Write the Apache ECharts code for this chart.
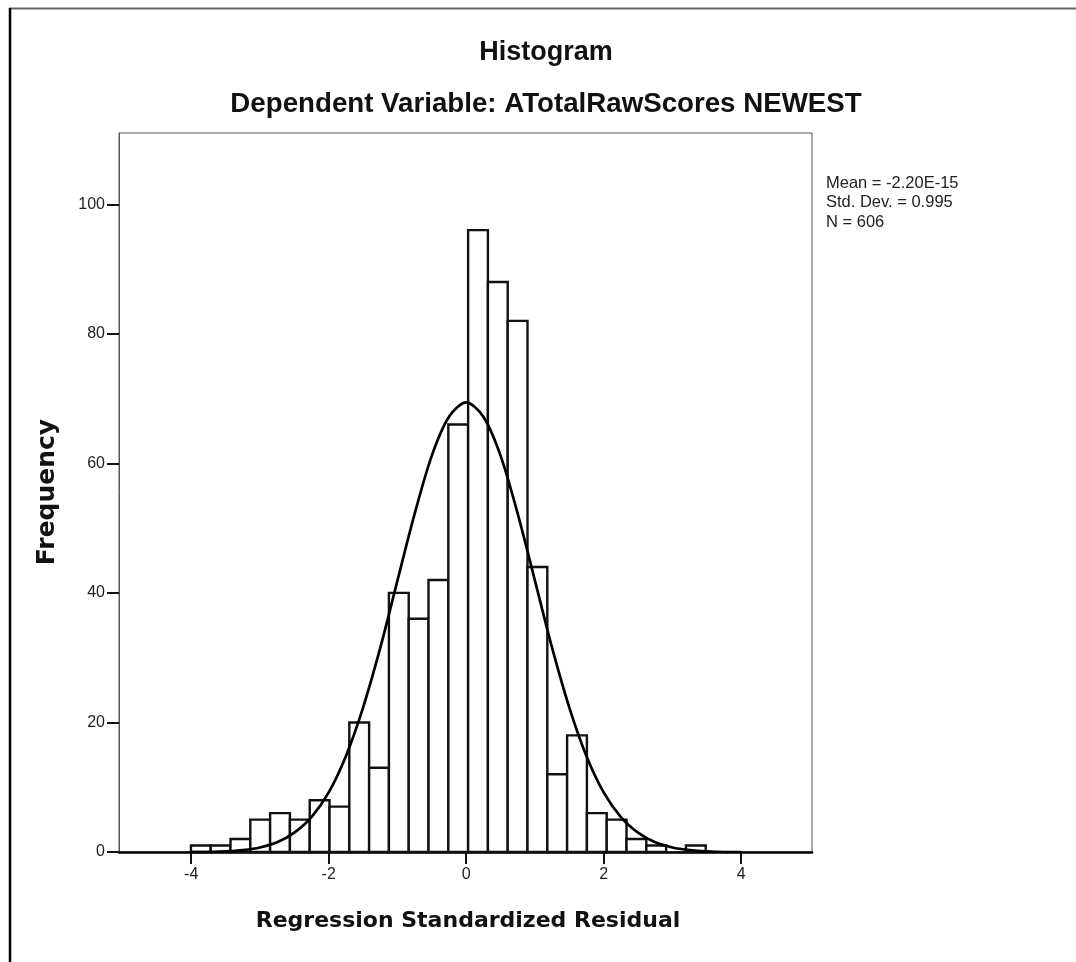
<!DOCTYPE html>
<html>
<head>
<meta charset="utf-8">
<title>Histogram</title>
<script src="https://cdn.jsdelivr.net/npm/echarts@6/dist/echarts.min.js"></script>
<style>
html, body { margin: 0; padding: 0; background: #fff; }
#chart { width: 1076px; height: 962px; }
</style>
</head>
<body>
<div id="chart"></div>
<script>
// bin edges on the residual axis (27 edges -> 26 bins)
var binEdges = [-4.004, -3.716, -3.428, -3.140, -2.852, -2.564, -2.276, -1.988, -1.700,
  -1.412, -1.124, -0.836, -0.548, -0.260, 0.028, 0.316, 0.604, 0.892, 1.180,
  1.468, 1.756, 2.044, 2.332, 2.620, 2.908, 3.196, 3.484];
var binCounts = [1, 1, 2, 5, 6, 5, 8, 7, 20, 13, 40, 36, 42, 66, 96, 88, 82, 44, 12, 18, 6, 5, 2, 1, 0, 1];

// normal curve
var curveX = [-4, -3.75, -3.5, -3.25, -3, -2.75, -2.5, -2.25, -2, -1.75, -1.5, -1.25, -1, -0.75, -0.5, -0.25, 0,
  0.25, 0.5, 0.75, 1, 1.25, 1.5, 1.75, 2, 2.25, 2.5, 2.75, 3, 3.25, 3.5, 3.75, 4];
var curveY = [0.0, 0.0, 0.1, 0.3, 0.7, 1.5, 3.0, 5.4, 9.2, 14.8, 22.3, 31.5, 41.9, 52.2, 61.2, 67.2, 69.4,
  67.2, 61.2, 52.2, 41.9, 31.5, 22.3, 14.8, 9.2, 5.4, 3.0, 1.5, 0.7, 0.3, 0.1, 0.0, 0.0];

var xTicks = [-4, -2, 0, 2, 4];
var yTicks = [0, 20, 40, 60, 80, 100];
var statLines = ['Mean = -2.20E-15', 'Std. Dev. = 0.995', 'N = 606'];

var arial = '"Liberation Sans", Arial, sans-serif';
var verdana = '"DejaVu Sans", Verdana, sans-serif';

var barData = [];
for (var i = 0; i < binCounts.length; i++) {
  if (binCounts[i] > 0) barData.push([binEdges[i], binEdges[i + 1], binCounts[i]]);
}
var curveData = curveX.map(function (x, i) { return [x, curveY[i]]; });

function renderBar(params, api) {
  var topLeft = api.coord([api.value(0), api.value(2)]);
  var bottomRight = api.coord([api.value(1), 0]);
  return {
    type: 'rect',
    shape: { x: topLeft[0], y: topLeft[1], width: bottomRight[0] - topLeft[0], height: bottomRight[1] - topLeft[1] },
    style: { fill: '#fff', stroke: '#111', lineWidth: 2.4 }
  };
}

var chart = echarts.init(document.getElementById('chart'));
var option = {
  animation: false,
  backgroundColor: '#fff',
  grid: {
    left: 119, top: 133, width: 693, height: 719,
    show: true, borderColor: '#555', borderWidth: 1,
    containLabel: false, outerBoundsMode: 'none'
  },
  xAxis: {
    type: 'value', min: -5.05, max: 5.03,
    splitLine: { show: false },
    axisLine: { show: true, onZero: false, lineStyle: { color: '#000', width: 2.5 } },
    axisTick: { show: true, length: 12, customValues: xTicks, lineStyle: { color: '#111', width: 2 } },
    axisLabel: { customValues: xTicks, margin: 15, color: '#222', fontSize: 16, fontFamily: arial }
  },
  yAxis: {
    type: 'value', min: 0, max: 111,
    splitLine: { show: false },
    axisLine: { show: true, onZero: false, lineStyle: { color: '#555', width: 1 } },
    axisTick: { show: true, length: 12, customValues: yTicks, lineStyle: { color: '#111', width: 2 } },
    axisLabel: { customValues: yTicks, margin: 14, color: '#222', fontSize: 16, fontFamily: arial }
  },
  series: [
    { type: 'custom', renderItem: renderBar, data: barData, encode: { x: [0, 1], y: 2 }, z: 2 },
    { type: 'line', data: curveData, smooth: 0.3, symbol: 'none', lineStyle: { color: '#000', width: 2.7 }, z: 3 }
  ],
  graphic: [
    { type: 'line', shape: { x1: 9, y1: 8.5, x2: 1076, y2: 8.5 }, style: { stroke: '#666', lineWidth: 2 } },
    { type: 'line', shape: { x1: 10, y1: 8, x2: 10, y2: 962 }, style: { stroke: '#000', lineWidth: 2.5 } },
    { type: 'text', x: 546, y: 53, style: { text: 'Histogram', font: 'bold 27px ' + arial, fill: '#111', align: 'center', verticalAlign: 'middle' } },
    { type: 'text', x: 546, y: 104, style: { text: 'Dependent Variable: ATotalRawScores NEWEST', font: 'bold 27.7px ' + arial, fill: '#111', align: 'center', verticalAlign: 'middle' } },
    { type: 'text', x: 47, y: 492, rotation: Math.PI / 2, style: { text: 'Frequency', font: 'bold 25px ' + verdana, fill: '#111', align: 'center', verticalAlign: 'middle' } },
    { type: 'text', x: 468, y: 921, style: { text: 'Regression Standardized Residual', font: 'bold 22px ' + verdana, fill: '#111', align: 'center', verticalAlign: 'middle' } },
    { type: 'text', x: 826, y: 174, style: { text: statLines.join('\n'), font: '16.5px ' + arial, lineHeight: 19.3, fill: '#222', align: 'left', verticalAlign: 'top' } }
  ]
};
chart.setOption(option);
window.onresize = function () { chart.resize(); };
</script>
</body>
</html>
